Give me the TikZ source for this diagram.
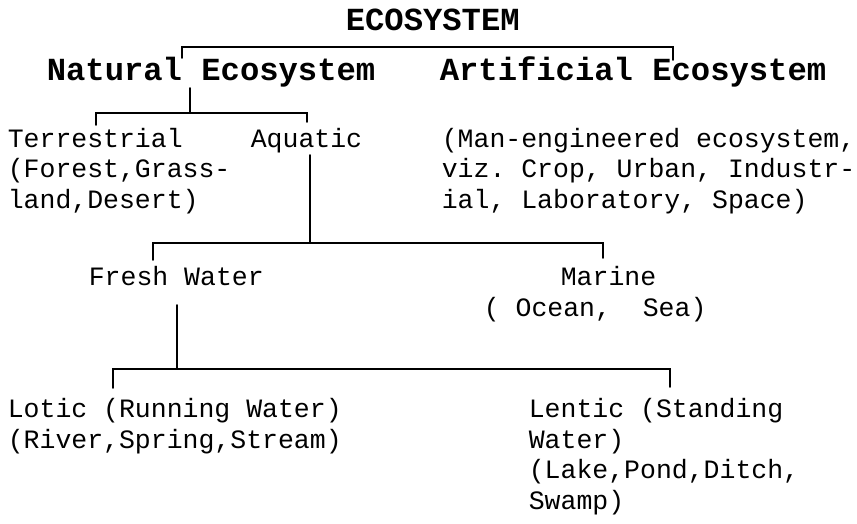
\documentclass[tikz,border=0pt]{standalone}
\usepackage{fontspec}
\setmonofont{Liberation Mono}
\begin{document}
\begin{tikzpicture}[x=1pt, y=-1pt, line width=1.6pt, line cap=round, line join=miter,
    txt/.style={font=\ttfamily\fontsize{26.5}{30.4}\selectfont, anchor=base west, inner sep=0pt, align=left},
    head/.style={font=\ttfamily\bfseries\fontsize{32.2}{36}\selectfont, anchor=base west, inner sep=0pt}]
    \useasboundingbox (0,0) rectangle (857,523);
    % headings
    \node[head] (eco) at (345,30) {ECOSYSTEM};
    \node[head] (nat) at (46,80) {Natural Ecosystem};
    \node[head] (art) at (439,80) {Artificial Ecosystem};
    % lower levels (multi-line nodes sit on their last baseline)
    \node[txt] (ter) at (7,208) {Terrestrial\\(Forest,Grass-\\land,Desert)};
    \node[txt] (aqu) at (250,147) {Aquatic};
    \node[txt] (man) at (441,208) {(Man-engineered ecosystem,\\viz. Crop, Urban, Industr-\\ial, Laboratory, Space)};
    \node[txt] (fresh) at (88,285) {Fresh Water};
    \node[txt] (mar) at (483,316) {\hspace{77pt}Marine\\( Ocean,~~Sea)};
    \node[txt] (lot) at (7,448) {Lotic (Running Water)\\(River,Spring,Stream)};
    \node[txt] (len) at (528,509) {Lentic (Standing\\Water)\\(Lake,Pond,Ditch,\\Swamp)};
    % brackets
    \coordinate (b1l) at (182,47); \coordinate (b1r) at (673,47);
    \draw (b1l) ++(0,11) -- (b1l) -- (b1r) -- ++(0,13);
    \coordinate (s2) at (190,88); \coordinate (b2l) at (96,113); \coordinate (b2r) at (307,113);
    \draw (s2) -- (s2 |- b2l);
    \draw (b2l) ++(0,12) -- (b2l) -- (b2r) -- ++(0,9);
    \coordinate (s3) at (310,155); \coordinate (b3l) at (153,243); \coordinate (b3r) at (603,243);
    \draw (s3) -- (s3 |- b3l);
    \draw (b3l) ++(0,17) -- (b3l) -- (b3r) -- ++(0,15);
    \coordinate (s4) at (177,305); \coordinate (b4l) at (113,369); \coordinate (b4r) at (670,369);
    \draw (s4) -- (s4 |- b4l);
    \draw (b4l) ++(0,19) -- (b4l) -- (b4r) -- ++(0,18);
\end{tikzpicture}
\end{document}
